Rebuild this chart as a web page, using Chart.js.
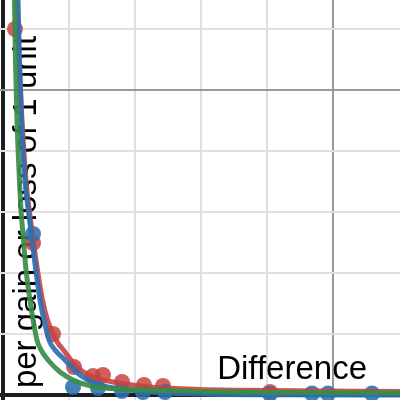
<!DOCTYPE html>
<html>
<head>
<meta charset="utf-8">
<script src="https://cdn.jsdelivr.net/npm/chart.js@4/dist/chart.umd.min.js"></script>
<style>
html,body{margin:0;padding:0;background:#fff;}
#wrap{width:400px;height:400px;}
</style>
</head>
<body>
<div id="wrap"><canvas id="c" width="400" height="400"></canvas></div>
<script>
// ---- data ----
const xTickValues = [0, 1, 2, 3, 4, 5];
const yTickValues = [0, 1, 2, 3, 4, 5, 6];

const redPointsX = [0.182, 0.455, 0.758, 1.076, 1.364, 1.515, 1.803, 2.136, 2.424, 4.045];
const redPointsY = [6.0, 2.492, 1.0, 0.459, 0.311, 0.328, 0.213, 0.164, 0.148, 0.049];

const bluePointsX = [0.455, 1.061, 1.439, 1.803, 2.121, 2.455, 4.045, 4.682, 4.924, 5.591];
const bluePointsY = [2.639, 0.131, 0.115, 0.066, 0.049, 0.049, 0.016, 0.025, 0.025, 0.025];

const redCurveX = [0.205, 0.242, 0.288, 0.348, 0.417, 0.500, 0.598, 0.674, 0.803, 0.939, 1.121, 1.364, 1.667, 2.227, 2.985, 4.045, 6.015];
const redCurveY = [6.475, 5.492, 4.508, 3.525, 2.869, 2.213, 1.557, 1.230, 0.902, 0.705, 0.459, 0.295, 0.213, 0.131, 0.090, 0.074, 0.057];

const blueCurveX = [0.227, 0.250, 0.280, 0.333, 0.402, 0.477, 0.561, 0.621, 0.697, 0.788, 0.909, 1.167, 1.470, 2.227, 2.985, 4.045, 6.015];
const blueCurveY = [6.475, 5.492, 4.508, 3.525, 2.869, 2.213, 1.557, 1.230, 0.902, 0.738, 0.607, 0.328, 0.164, 0.050, 0.016, 0.004, 0];

const greenCurveX = [0.174, 0.189, 0.212, 0.242, 0.273, 0.311, 0.341, 0.409, 0.515, 0.576, 0.682, 0.864, 1.061, 1.364, 1.773, 2.227, 2.985, 4.045, 6.015];
const greenCurveY = [6.475, 5.492, 4.508, 3.689, 3.033, 2.541, 2.131, 1.557, 0.902, 0.738, 0.574, 0.377, 0.246, 0.139, 0.098, 0.082, 0.057, 0.041, 0.033];

const xLabelText = "Difference";
const yLabelText = "per gain or loss of 1 unit";
// label anchors in data units
const xLabelAnchor = [4.38, 0.262];
const yLabelAnchor = [0.5, 3.0];

// ---- build ----
const zip = (xs, ys) => xs.map((x, i) => ({x: x, y: ys[i]}));

const RED = 'rgba(199,68,64,0.9)';
const BLUE = 'rgba(45,112,179,0.92)';
const GREEN = 'rgba(56,140,70,0.92)';

const labelPlugin = {
  id: 'labels',
  beforeDatasetsDraw(chart) {
    const ctx = chart.ctx;
    const xs = chart.scales.x, ys = chart.scales.y;
    ctx.save();
    ctx.fillStyle = '#000';
    ctx.font = '33px "Liberation Sans", Arial, sans-serif';
    ctx.textBaseline = 'alphabetic';
    ctx.textAlign = 'center';
    ctx.fillText(xLabelText, xs.getPixelForValue(xLabelAnchor[0]), ys.getPixelForValue(xLabelAnchor[1]));
    ctx.translate(xs.getPixelForValue(yLabelAnchor[0]), ys.getPixelForValue(yLabelAnchor[1]));
    ctx.rotate(-Math.PI / 2);
    ctx.fillText(yLabelText, 0, 0);
    ctx.restore();
  }
};

function gridColor(ctx) {
  const v = ctx.tick.value;
  if (Math.abs(v) < 1e-9) return '#1e1e1e';
  if (Math.abs(v % 5) < 1e-9) return '#9a9a9a';
  return '#e0e0e0';
}
function gridWidth(ctx) {
  const v = ctx.tick.value;
  if (Math.abs(v) < 1e-9) return 4;
  return 2;
}

const lineDs = (label, xs, ys, color) => ({
  type: 'line', label: label, data: zip(xs, ys),
  borderColor: color, backgroundColor: color, borderWidth: 5,
  pointRadius: 0, fill: false, cubicInterpolationMode: 'monotone', order: 0
});
const pointDs = (label, xs, ys, color) => ({
  type: 'scatter', label: label, data: zip(xs, ys),
  backgroundColor: color, borderColor: color, borderWidth: 0,
  pointRadius: 8, showLine: false, order: 1
});

new Chart(document.getElementById('c'), {
  type: 'scatter',
  data: {
    datasets: [
      Object.assign(lineDs('green fit', greenCurveX, greenCurveY, GREEN), {order: 0}),
      Object.assign(lineDs('blue fit', blueCurveX, blueCurveY, BLUE), {order: 1}),
      Object.assign(lineDs('red fit', redCurveX, redCurveY, RED), {order: 2}),
      Object.assign(pointDs('blue data', bluePointsX, bluePointsY, 'rgba(45,112,179,0.88)'), {order: 3}),
      Object.assign(pointDs('red data', redPointsX, redPointsY, 'rgba(199,68,64,0.85)'), {order: 4})
    ]
  },
  options: {
    responsive: false,
    animation: false,
    devicePixelRatio: 1,
    layout: {padding: 0, autoPadding: false},
    plugins: {legend: {display: false}, tooltip: {enabled: false}},
    scales: {
      x: {
        type: 'linear', min: -3 / 66, max: 397 / 66,
        afterBuildTicks: (axis) => { axis.ticks = xTickValues.map(v => ({value: v})); },
        ticks: {display: false},
        grid: {drawTicks: false, tickLength: 0, color: gridColor, lineWidth: gridWidth},
        border: {display: false}
      },
      y: {
        type: 'linear', min: -5 / 61, max: 395 / 61,
        afterBuildTicks: (axis) => { axis.ticks = yTickValues.map(v => ({value: v})); },
        ticks: {display: false},
        grid: {drawTicks: false, tickLength: 0, color: gridColor, lineWidth: gridWidth},
        border: {display: false}
      }
    }
  },
  plugins: [labelPlugin]
});
</script>
</body>
</html>
